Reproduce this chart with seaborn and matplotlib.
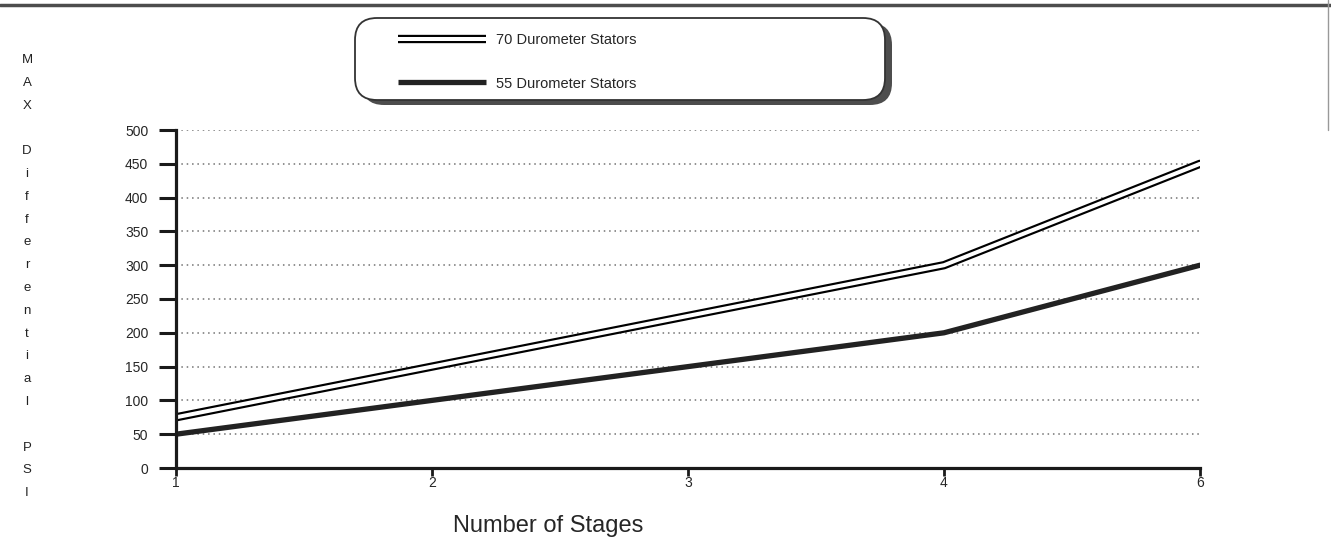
import pandas as pd
import matplotlib.pyplot as plt
import seaborn as sns
from matplotlib.lines import Line2D
from matplotlib.patches import FancyBboxPatch
from matplotlib.transforms import IdentityTransform

## data
stages = ['1', '2', '3', '4', '6']
psi_70 = [75, 150, 225, 300, 450]
psi_55 = [50, 100, 150, 200, 300]
series_names = ['70 Durometer Stators', '55 Durometer Stators']
y_ticks = [0, 50, 100, 150, 200, 250, 300, 350, 400, 450, 500]
ylabel_letters = 'MAX Differential PSI'

sns.set_style('ticks')
plt.rcParams['font.family'] = ['Liberation Sans', 'DejaVu Sans']

df = pd.DataFrame({'stage': stages, 'p70': psi_70, 'p55': psi_55})

fig = plt.figure(figsize=(13.31, 5.51), dpi=100)
ax = fig.add_axes([176 / 1331, 1 - 468 / 551, 1024 / 1331, 338 / 551])

# grid first so lines sit on top
for v in y_ticks[1:]:
    ax.axhline(v, color='0.45', lw=1.1, ls=(0, (1, 2.5)), zorder=1)

# double line for 70 durometer: thick black with white core
sns.lineplot(data=df, x='stage', y='p70', sort=False, color='black', lw=6.0, ax=ax, zorder=3)
sns.lineplot(data=df, x='stage', y='p70', sort=False, color='white', lw=2.9, ax=ax, zorder=4)
sns.lineplot(data=df, x='stage', y='p55', sort=False, color='#222222', lw=3.8, ax=ax, zorder=3)

ax.set_xlim(0, len(stages) - 1)
ax.set_ylim(0, 500)
ax.set_yticks(y_ticks)
ax.set_ylabel('')
ax.set_xlabel('Number of Stages', fontsize=17)
ax.xaxis.set_label_coords((548 - 176) / 1024, -0.14)

sns.despine(ax=ax)
for s in ['left', 'bottom']:
    ax.spines[s].set_linewidth(2.3)
    ax.spines[s].set_color('#1a1a1a')
    ax.spines[s].set_zorder(5)
ax.tick_params(axis='y', length=12, width=2.2, pad=8, labelsize=10, color='#1a1a1a')
ax.tick_params(axis='x', length=6, width=2.0, pad=0, labelsize=10, color='#1a1a1a')

# vertical stacked y label
fig.text(27 / 1331, 1 - 54 / 551, '\n'.join(ylabel_letters), ha='center', va='top',
         fontsize=9.5, linespacing=2.2, color='#222222')

# legend box with shadow (pixel coords)
shadow = FancyBboxPatch((362, 446), 530, 82, boxstyle='round,pad=0,rounding_size=22',
                        transform=IdentityTransform(), facecolor='0.3', edgecolor='none')
box = FancyBboxPatch((355, 451), 530, 82, boxstyle='round,pad=0,rounding_size=22',
                     transform=IdentityTransform(), facecolor='white', edgecolor='0.2', lw=1.3)
fig.add_artist(shadow)
fig.add_artist(box)

h70 = (Line2D([], [], color='black', lw=6.0, solid_capstyle='butt'),
       Line2D([], [], color='white', lw=2.9, solid_capstyle='butt'))
h55 = Line2D([], [], color='#222222', lw=3.8, solid_capstyle='butt')
leg = fig.legend([h70, h55], series_names, loc='center left', frameon=False,
                 bbox_to_anchor=(398 / 1331, 1 - 62 / 551), borderpad=0, borderaxespad=0,
                 handlelength=6.0, handletextpad=0.7, labelspacing=2.0, fontsize=10.5)
leg.set_zorder(10)

# scan border lines
fig.add_artist(Line2D([0, 1], [1 - 5 / 551, 1 - 5 / 551], color='0.3', lw=2.5))
fig.add_artist(Line2D([1328 / 1331, 1328 / 1331], [1, 1 - 130 / 551], color='0.6', lw=1))

fig.savefig('out.png', dpi=100)
